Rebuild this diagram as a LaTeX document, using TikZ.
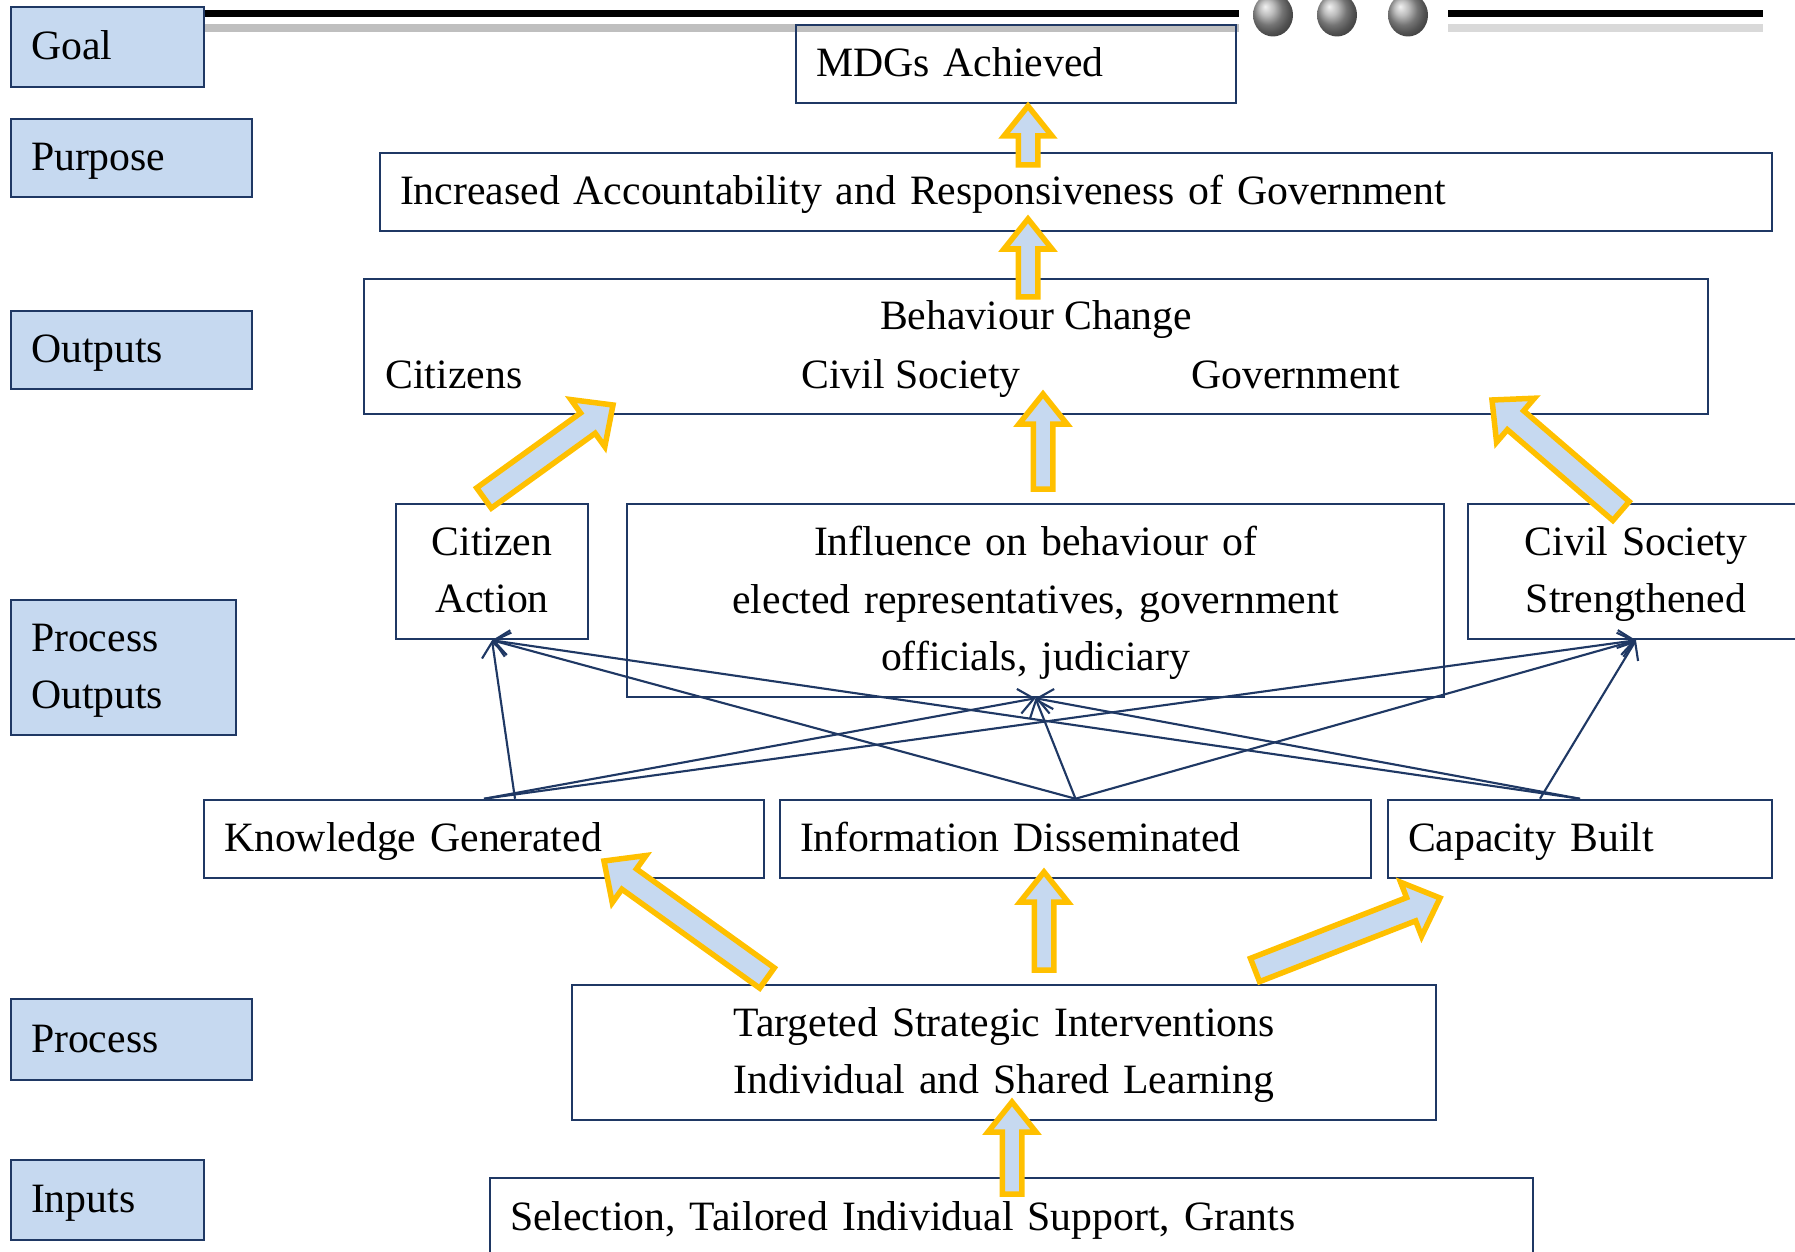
\documentclass[tikz,border=0pt]{standalone}
\usepackage{fontspec}
\setmainfont{Liberation Serif}
\usetikzlibrary{calc,arrows.meta}

\definecolor{navy}{RGB}{31,56,100}
\definecolor{paleblue}{RGB}{198,217,240}
\definecolor{gold}{RGB}{255,192,0}
\definecolor{rulegray}{RGB}{191,191,191}
\definecolor{rulegraylight}{RGB}{217,217,217}

\newcommand\bodyfont{\fontsize{16.7}{23}\selectfont}
% strut that centres a line of text on its visual middle
\newcommand\ts{\vrule width 0pt height 15.5pt depth 5.5pt\relax}

\tikzset{
  box/.style={draw=navy, line width=1pt, inner xsep=8pt, inner ysep=0pt, font=\bodyfont},
  tag/.style={box, fill=paleblue},
  txt/.style={inner sep=0pt, font=\bodyfont},
  flow/.style={draw=navy, line width=0.85pt, -{Straight Barb[length=6pt,width=10pt]}},
  fat/.style={draw=gold, fill=paleblue, line width=2.2pt, line join=miter},
}

% rectangle node from its corners (in picture units): style, name, x1, y1, x2, y2, text
\newcommand\panel[7]{%
  \pgfmathsetlengthmacro\pw{(#5-#3)*0.4pt}%
  \pgfmathsetlengthmacro\ph{(#6-#4)*0.4pt}%
  \pgfmathsetlengthmacro\tw{\pw-16pt}%
  \node[#1, minimum width=\pw, minimum height=\ph, text width=\tw]
    (#2) at ({(#3+#5)/2},{(#4+#6)/2}) {#7};%
}

% block arrow: tail, tip, shaft half-width, head half-width, head length
\newcommand\fatarrow[5]{%
  \coordinate (fa-b) at ($(#2)!#5!(#1)$);
  \draw[fat] ($(#1)!#3!90:(#2)$) -- ($(fa-b)!#3!90:(#2)$) -- ($(fa-b)!#4!90:(#2)$)
    -- (#2) -- ($(fa-b)!#4!-90:(#2)$) -- ($(fa-b)!#3!-90:(#2)$) -- ($(#1)!#3!-90:(#2)$) -- cycle;
}

\begin{document}
\begin{tikzpicture}[x=0.4pt,y=-0.4pt]
\useasboundingbox (0,0) rectangle (1795,1252);
\clip (0,0) rectangle (1795,1252);

% header rules and balls
\fill[black] (204,10) rectangle (1239,17);
\fill[rulegray] (204,24) rectangle (1239,32);
\fill[black] (1448,10) rectangle (1763,17);
\fill[rulegraylight] (1448,24) rectangle (1763,32);
\foreach \bx in {1273,1337,1408}
  \shade[ball color=gray!70] (\bx,15) ellipse[x radius=8pt, y radius=8.6pt];

% level tags
\panel{tag,align=left}{goal}{11}{7}{204}{87}{\ts Goal}
\panel{tag,align=left}{purpose}{11}{119}{252}{197}{\ts Purpose}
\panel{tag,align=left}{outputs}{11}{311}{252}{389}{\ts Outputs}
\panel{tag,align=left}{procout}{11}{600}{236}{735}{\ts Process\\\ts Outputs}
\panel{tag,align=left}{process}{11}{999}{252}{1080}{\ts Process}
\panel{tag,align=left}{inputs}{11}{1160}{204}{1240}{\ts Inputs}

% results chain
\panel{box,align=left}{mdg}{796}{25}{1236}{103}{\ts MDGs Achieved}
\panel{box,align=left}{acc}{380}{153}{1772}{231}{\ts Increased Accountability and Responsiveness of Government}
\panel{box,align=left}{behav}{364}{279}{1708}{414}{}
\node[txt, anchor=base] (behavtitle) at (1036,329) {Behaviour Change};
\node[txt, anchor=base west] (bcit) at (385,388) {Citizens};
\node[txt, anchor=base west] (bcs) at (801,388) {Civil Society};
\node[txt, anchor=base west] (bgov) at (1191,388) {Government};
\panel{box,align=center}{citact}{396}{504}{588}{639}{\ts Citizen\\\ts Action}
\panel{box,align=center}{infl}{627}{504}{1444}{697}{\ts Influence on behaviour of\\\ts elected representatives, government\\\ts officials, judiciary}
\panel{box,align=center}{css}{1468}{504}{1804}{639}{\ts Civil Society\\\ts Strengthened}
\panel{box,align=left}{know}{204}{800}{764}{878}{\ts Knowledge Generated}
\panel{box,align=left}{info}{780}{800}{1371}{878}{\ts Information Disseminated}
\panel{box,align=left}{cap}{1388}{800}{1772}{878}{\ts Capacity Built}
\panel{box,align=center}{tsi}{572}{985}{1436}{1120}{\ts Targeted Strategic Interventions\\\ts Individual and Shared Learning}
\panel{box,align=left}{inp}{490}{1178}{1533}{1258}{\ts Selection, Tailored Individual Support, Grants}

% contributions of process outputs
\coordinate (know-a) at ([xshift=12.4pt]know.north);
\coordinate (cap-a) at ([xshift=-16pt]cap.north);
\draw[flow] (know-a) -- (citact.south);
\draw[flow] (know.north) -- (infl.south);
\draw[flow] (know.north) -- (css.south);
\draw[flow] (info.north) -- (citact.south);
\draw[flow] (info.north) -- (infl.south);
\draw[flow] (info.north) -- (css.south);
\draw[flow] (cap.north) -- (citact.south);
\draw[flow] (cap.north) -- (infl.south);
\draw[flow] (cap-a) -- (css.south);

% block arrows between levels
\coordinate (u1t) at (1028,165);  \coordinate (u1h) at (1028,106);
\coordinate (u2t) at (1028,297);  \coordinate (u2h) at (1028,219);
\coordinate (u3t) at (1043,489);  \coordinate (u3h) at (1043,394);
\coordinate (u4t) at (1044,970);  \coordinate (u4h) at (1044,872);
\coordinate (u5t) at (1012,1194); \coordinate (u5h) at (1012,1102);
\coordinate (d1t) at (484,498);   \coordinate (d1h) at (613,405);
\coordinate (d2t) at (1621,511);  \coordinate (d2h) at (1492,400);
\coordinate (d3t) at (767,978);   \coordinate (d3h) at (604,861);
\coordinate (d4t) at (1255,970);  \coordinate (d4h) at (1440,898);

\fatarrow{u1t}{u1h}{3.9pt}{9.6pt}{12pt}
\fatarrow{u2t}{u2h}{3.9pt}{9.6pt}{12pt}
\fatarrow{u3t}{u3h}{3.9pt}{9.6pt}{12pt}
\fatarrow{u4t}{u4h}{3.9pt}{9.6pt}{12pt}
\fatarrow{u5t}{u5h}{3.9pt}{9.6pt}{12pt}
\fatarrow{d1t}{d1h}{5pt}{11.6pt}{12.4pt}
\fatarrow{d2t}{d2h}{5pt}{11.6pt}{12.4pt}
\fatarrow{d3t}{d3h}{5pt}{11.6pt}{12.4pt}
\fatarrow{d4t}{d4h}{5pt}{11.6pt}{12.4pt}
\end{tikzpicture}
\end{document}
